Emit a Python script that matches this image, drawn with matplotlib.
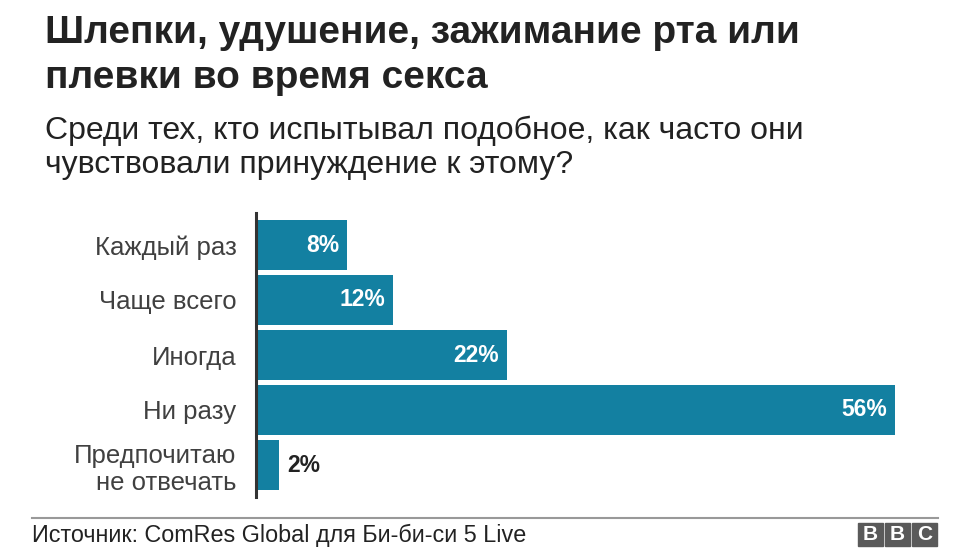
import matplotlib.pyplot as plt
from matplotlib.patches import Rectangle

plt.rcParams['font.family'] = ['Liberation Sans', 'DejaVu Sans']

categories = ["Каждый раз", "Чаще всего", "Иногда", "Ни разу", "Предпочитаю\nне отвечать"]
values = [8, 12, 22, 56, 2]
labels = ["8%", "12%", "22%", "56%", "2%"]

title = "Шлепки, удушение, зажимание рта или\nплевки во время секса"
subtitle = "Среди тех, кто испытывал подобное, как часто они\nчувствовали принуждение к этому?"
source = "Источник: ComRes Global для Би-би-си 5 Live"

W, H = 976, 549
fig = plt.figure(figsize=(W / 100, H / 100), dpi=100)

# axes placed in pixel coords: spine x=256, y from 213 to 497
px_per = (895 - 256) / 56
xmax = 60
ax = fig.add_axes([256 / W, 1 - 497 / H, xmax * px_per / W, (497 - 213) / H])

ypos = list(range(len(values)))
ax.barh(ypos, values, height=50 / 55, color="#1380A1")
ax.set_xlim(0, xmax)
ax.set_ylim(4 + 32 / 55, -32 / 55)

for y, v, lab in zip(ypos, values, labels):
    if v > 5:
        ax.text(v - 0.7, y, lab, ha="right", va="center", color="white",
                fontsize=16.5, fontweight="bold")
    else:
        ax.text(v + 0.7, y, lab, ha="left", va="center", color="#222222",
                fontsize=16.5, fontweight="bold")

ax.set_yticks(ypos)
ax.set_yticklabels(categories, fontsize=18.5, color="#404040", linespacing=1.2)
ax.tick_params(axis="y", length=0, pad=14)
ax.set_xticks([])
for s in ["top", "right", "bottom"]:
    ax.spines[s].set_visible(False)
ax.spines["left"].set_linewidth(2.2)
ax.spines["left"].set_color("#333333")

# title and subtitle, one line at a time (baselines in px)
for line, yb in zip(title.split("\n"), [43, 88]):
    fig.text(45 / W, 1 - yb / H, line, ha="left", va="baseline", fontsize=28,
             fontweight="bold", color="#222222")
for line, yb in zip(subtitle.split("\n"), [139, 173]):
    fig.text(45 / W, 1 - yb / H, line, ha="left", va="baseline", fontsize=23,
             color="#222222")

# footer
fig.add_artist(plt.Line2D([32 / W, 938 / W], [1 - 518 / H, 1 - 518 / H],
                          color="#999999", linewidth=1.5))
fig.text(32 / W, 1 - 542 / H, source, ha="left", va="baseline", fontsize=16.8,
         color="#222222")

for i, ch in enumerate("BBC"):
    x0 = 858 + i * 27
    fig.add_artist(Rectangle((x0 / W, 1 - 546 / H), 25 / W, 23 / H,
                             transform=fig.transFigure, color="#5a5a5a"))
    fig.text((x0 + 12.5) / W, 1 - 534.5 / H, ch, ha="center", va="center",
             fontsize=15, fontweight="bold", color="white")

fig.savefig("out.png", dpi=100)
